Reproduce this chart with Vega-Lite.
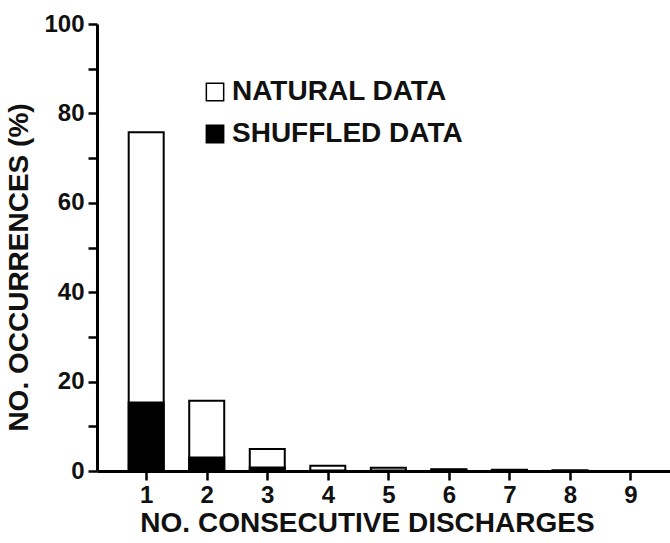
{
  "$schema": "https://vega.github.io/schema/vega-lite/v6.json",
  "autosize": "none",
  "padding": {"left": 97, "top": 24, "right": 0, "bottom": 72},
  "width": 573,
  "height": 447,
  "background": "white",
  "config": {
    "font": "Liberation Sans",
    "view": {"stroke": null}
  },
  "data": {
    "values": [
      {"k": 1, "series": "NATURAL DATA", "pct": 75.8},
      {"k": 2, "series": "NATURAL DATA", "pct": 15.7},
      {"k": 3, "series": "NATURAL DATA", "pct": 4.9},
      {"k": 4, "series": "NATURAL DATA", "pct": 1.2},
      {"k": 5, "series": "NATURAL DATA", "pct": 0.7},
      {"k": 6, "series": "NATURAL DATA", "pct": 0.4},
      {"k": 7, "series": "NATURAL DATA", "pct": 0.3},
      {"k": 8, "series": "NATURAL DATA", "pct": 0.1},
      {"k": 9, "series": "NATURAL DATA", "pct": 0.0},
      {"k": 1, "series": "SHUFFLED DATA", "pct": 15.3},
      {"k": 2, "series": "SHUFFLED DATA", "pct": 3.0},
      {"k": 3, "series": "SHUFFLED DATA", "pct": 0.8},
      {"k": 4, "series": "SHUFFLED DATA", "pct": 0.1},
      {"k": 5, "series": "SHUFFLED DATA", "pct": 0.1},
      {"k": 6, "series": "SHUFFLED DATA", "pct": 0.3},
      {"k": 7, "series": "SHUFFLED DATA", "pct": 0.2},
      {"k": 8, "series": "SHUFFLED DATA", "pct": 0.1},
      {"k": 9, "series": "SHUFFLED DATA", "pct": 0.0}
    ]
  },
  "mark": {"type": "bar", "width": 35, "stroke": "black", "strokeWidth": 2, "opacity": 1},
  "encoding": {
    "x": {
      "field": "k", "type": "quantitative",
      "scale": {"domain": [0.27, 9.57], "nice": false, "zero": false},
      "axis": {
        "title": "NO. CONSECUTIVE DISCHARGES",
        "values": [1,2,3,4,5,6,7,8,9],
        "grid": false,
        "domainColor": "black", "domainWidth": 3,
        "tickColor": "black", "tickWidth": 2.5, "tickSize": 9,
        "labelFontSize": 24, "labelFontWeight": "bold", "labelColor": "#111",
        "labelPadding": 3, "labelFlush": false,
        "titleFontSize": 28, "titleFontWeight": "bold", "titleColor": "#111",
        "titlePadding": 2, "titleX": 270
      }
    },
    "y": {
      "field": "pct", "type": "quantitative", "stack": null,
      "scale": {"domain": [0, 100], "nice": false},
      "axis": {
        "title": "NO. OCCURRENCES (%)",
        "values": [0,10,20,30,40,50,60,70,80,90,100],
        "labelExpr": "datum.value % 20 == 0 ? datum.label : ''",
        "grid": false,
        "domainColor": "black", "domainWidth": 3,
        "tickColor": "black", "tickWidth": 2.5, "tickSize": 9,
        "labelFontSize": 24, "labelFontWeight": "bold", "labelColor": "#111",
        "labelPadding": 4,
        "titleFontSize": 28, "titleFontWeight": "bold", "titleColor": "#111",
        "titlePadding": 10, "titleY": 243
      }
    },
    "color": {
      "field": "series", "type": "nominal",
      "scale": {"domain": ["NATURAL DATA", "SHUFFLED DATA"], "range": ["white", "black"]},
      "legend": {
        "title": null,
        "orient": "none", "legendX": 104, "legendY": 54,
        "symbolType": "square", "symbolSize": 300,
        "symbolStrokeColor": "black", "symbolStrokeWidth": 1.5,
        "symbolOpacity": 1,
        "labelFontSize": 28, "labelFontWeight": "bold", "labelColor": "#111",
        "labelOffset": 3, "labelLimit": 0, "rowPadding": 14
      }
    },
    "order": {"field": "series", "sort": "ascending"}
  }
}
